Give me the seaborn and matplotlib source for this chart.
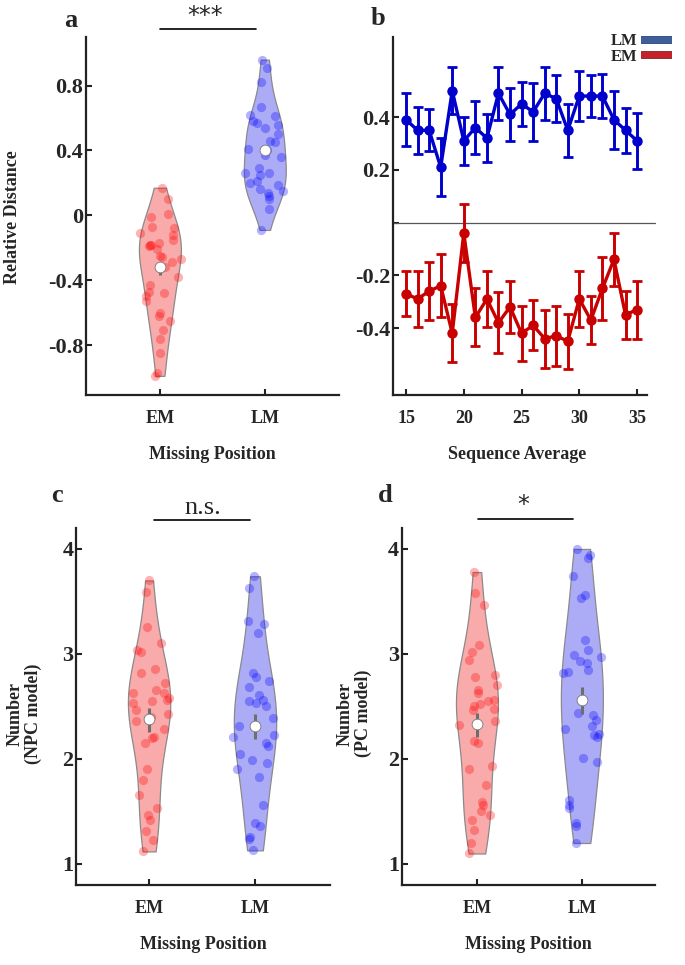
import numpy as np
import pandas as pd
import seaborn as sns
import matplotlib.pyplot as plt
import matplotlib.patheffects as pe
from matplotlib.lines import Line2D

sns.set_style('ticks')
plt.rcParams['font.family'] = ['Liberation Serif', 'DejaVu Serif']
plt.rcParams['font.weight'] = 'bold'
plt.rcParams['axes.labelweight'] = 'bold'

# ---- data ----
groups = ['EM', 'LM']

# panel a: relative distance per participant
a_em = [0.17, 0.10, 0.01, -0.01, -0.07, -0.08, -0.11, -0.12, -0.15, -0.17, -0.18, -0.18,
        -0.19, -0.21, -0.25, -0.26, -0.27, -0.29, -0.32, -0.38, -0.43, -0.47, -0.48,
        -0.50, -0.53, -0.60, -0.62, -0.65, -0.71, -0.76, -0.85, -0.97, -0.99]
a_lm = [0.96, 0.91, 0.82, 0.67, 0.62, 0.61, 0.58, 0.57, 0.56, 0.54, 0.50, 0.46, 0.45,
        0.41, 0.40, 0.37, 0.36, 0.29, 0.26, 0.26, 0.25, 0.21, 0.20, 0.19, 0.16, 0.15,
        0.14, 0.12, 0.10, 0.04, -0.09]
a_mid = [-0.32, 0.40]
a_bar = [(-0.37, -0.285), (0.37, 0.43)]

# panel b: mean +- SE by sequence average
seq = list(range(15, 36))
lm_mean = [0.39, 0.35, 0.35, 0.21, 0.50, 0.31, 0.36, 0.32, 0.49, 0.41, 0.45, 0.42, 0.49,
           0.47, 0.35, 0.48, 0.48, 0.48, 0.39, 0.35, 0.31]
lm_err = [0.10, 0.09, 0.08, 0.11, 0.09, 0.09, 0.10, 0.09, 0.10, 0.10, 0.085, 0.11, 0.10,
          0.09, 0.10, 0.095, 0.08, 0.085, 0.11, 0.085, 0.105]
em_mean = [-0.27, -0.29, -0.26, -0.24, -0.42, -0.04, -0.36, -0.29, -0.38, -0.32, -0.42,
           -0.39, -0.44, -0.43, -0.45, -0.29, -0.37, -0.25, -0.14, -0.35, -0.33]
em_err = [0.085, 0.105, 0.11, 0.12, 0.11, 0.11, 0.11, 0.105, 0.115, 0.10, 0.105, 0.095,
          0.11, 0.115, 0.105, 0.105, 0.09, 0.12, 0.10, 0.09, 0.11]

# panel c: number (NPC model)
c_em = [3.70, 3.59, 3.26, 3.04, 3.10, 3.02, 2.86, 2.82, 2.72, 2.66, 2.63, 2.63, 2.58,
        2.56, 2.55, 2.53, 2.47, 2.43, 2.40, 2.36, 2.29, 2.21, 2.20, 2.15, 1.90, 1.80,
        1.66, 1.53, 1.47, 1.42, 1.31, 1.23, 1.12]
c_lm = [3.74, 3.63, 3.31, 3.29, 3.20, 2.82, 2.78, 2.74, 2.69, 2.61, 2.56, 2.55, 2.53,
        2.50, 2.39, 2.31, 2.23, 2.21, 2.15, 2.12, 2.05, 1.99, 1.96, 1.90, 1.83, 1.56,
        1.39, 1.36, 1.26, 1.24, 1.13]
c_mid = [2.38, 2.31]
c_bar = [(2.26, 2.49), (2.19, 2.43)]

# panel d: number (PC model)
d_em = [3.78, 3.58, 3.47, 3.09, 3.02, 2.94, 2.80, 2.78, 2.70, 2.66, 2.63, 2.56, 2.55,
        2.52, 2.50, 2.48, 2.47, 2.36, 2.32, 2.17, 2.15, 1.93, 1.90, 1.75, 1.59, 1.56,
        1.50, 1.47, 1.42, 1.32, 1.20, 1.10]
d_lm = [4.00, 3.94, 3.91, 3.74, 3.56, 3.53, 3.13, 3.04, 2.99, 2.97, 2.93, 2.91, 2.85,
        2.83, 2.82, 2.44, 2.42, 2.37, 2.31, 2.29, 2.24, 2.23, 2.21, 2.01, 1.97, 1.61,
        1.56, 1.53, 1.39, 1.36, 1.20]
d_mid = [2.33, 2.56]
d_bar = [(2.21, 2.44), (2.43, 2.69)]

fill_pal = {'EM': '#F9ABAB', 'LM': '#ACACF6'}
dot_pal = {'EM': '#FF0000', 'LM': '#0000FF'}
rng = np.random.default_rng(7)

fig = plt.figure(figsize=(6.85, 9.65), dpi=100)
ax_a = fig.add_axes([0.1255, 0.5907, 0.369, 0.371])
ax_b = fig.add_axes([0.5737, 0.5907, 0.371, 0.371])
ax_c = fig.add_axes([0.111, 0.0829, 0.371, 0.370])
ax_d = fig.add_axes([0.5869, 0.0829, 0.369, 0.370])


def style_axis(ax):
    sns.despine(ax=ax)
    for s in ['left', 'bottom']:
        ax.spines[s].set_linewidth(1.6)
        ax.spines[s].set_color('#222222')
    ax.tick_params(direction='in', length=4, width=1.5, color='#222222')
    ax.tick_params(axis='y', labelsize=16, pad=2)
    ax.tick_params(axis='x', labelsize=13, pad=11)


def density_spread(vals):
    # horizontal spread of the dots follows the violin's density
    v = np.asarray(vals)
    bw = 1.1 * v.std(ddof=1) * len(v) ** (-1 / 5)
    dens = np.exp(-0.5 * ((v[:, None] - v[None, :]) / bw) ** 2).sum(axis=1)
    return dens / dens.max()


def violin_panel(ax, em, lm, mids, bars):
    df = pd.DataFrame({'group': ['EM'] * len(em) + ['LM'] * len(lm), 'value': em + lm})
    sns.violinplot(data=df, x='group', y='value', hue='group', order=groups,
                   palette=fill_pal, cut=0, width=0.4, density_norm='width', bw_adjust=1.1,
                   inner=None, linecolor='#8a8a8a', linewidth=0.9, saturation=1,
                   legend=False, ax=ax)
    for i, (g, vals) in enumerate(zip(groups, [em, lm])):
        spread = density_spread(vals)
        xs = i + rng.uniform(-1, 1, len(vals)) * 0.21 * spread
        sns.scatterplot(x=xs, y=vals, color=dot_pal[g], alpha=0.3, s=44,
                        linewidth=0, ax=ax, zorder=3)
    lo = [b[0] for b in bars]
    hi = [b[1] for b in bars]
    ax.vlines([0, 1], lo, hi, color='#6e6e6e', lw=2.2, zorder=4)
    ax.scatter([0, 1], mids, s=60, color='white', edgecolor='#777777', lw=0.6, zorder=5)
    style_axis(ax)
    ax.set_xticks([0, 1])
    ax.set_xticklabels(groups)
    ax.set_xlabel('Missing Position', fontsize=13)
    ax.xaxis.set_label_coords(0.5, -0.143)


def sig_bar(ax, x0, x1, y, text, ty, tx, **kw):
    tr = ax.get_xaxis_transform()
    ax.plot([x0, x1], [y, y], color='black', lw=1.2, transform=tr, clip_on=False)
    ax.text(tx, ty, text, transform=tr, ha='center', va='center', **kw)


# ---- a ----
violin_panel(ax_a, a_em, a_lm, a_mid, a_bar)
ax_a.set_xlim(-0.705, 1.705)
ax_a.set_ylim(-1.108, 1.1)
ax_a.set_yticks([-0.8, -0.4, 0, 0.4, 0.8])
ax_a.set_yticklabels(['-0.8', '-0.4', '0', '0.4', '0.8'])
ax_a.set_ylabel('Relative Distance', fontsize=13)
ax_a.yaxis.set_label_coords(-0.257, 0.497)
sig_bar(ax_a, 0.0, 0.914, 1.022, '***', 1.058, 0.43,
        fontsize=17, fontweight='normal', family='DejaVu Sans')

# ---- b ----
dfb = pd.DataFrame({'seq': seq + seq, 'value': lm_mean + em_mean,
                    'group': ['LM'] * len(seq) + ['EM'] * len(seq)})
line_pal = {'LM': '#0000CD', 'EM': '#C80000'}
ax_b.axhline(0, color='#555555', lw=0.9, xmin=0, xmax=1.03, clip_on=False)
sns.lineplot(data=dfb, x='seq', y='value', hue='group', palette=line_pal, marker='o',
             markersize=7.5, markeredgewidth=0, lw=2.4, legend=False, ax=ax_b, zorder=3)
ax_b.errorbar(seq, lm_mean, yerr=lm_err, fmt='none', ecolor=line_pal['LM'],
              elinewidth=2.1, capsize=3.5, capthick=2, zorder=3)
ax_b.errorbar(seq, em_mean, yerr=em_err, fmt='none', ecolor=line_pal['EM'],
              elinewidth=2.1, capsize=3.5, capthick=2, zorder=3)
style_axis(ax_b)
ax_b.set_xlim(13.87, 35.87)
ax_b.set_ylim(-0.654, 0.704)
ax_b.set_xticks([15, 20, 25, 30, 35])
ax_b.set_yticks([-0.4, -0.2, 0, 0.2, 0.4])
ax_b.set_yticklabels(['-0.4', '-0.2', '', '0.2', '0.4'])
ax_b.set_xlabel('Sequence Average', fontsize=13)
ax_b.xaxis.set_label_coords(0.49, -0.143)
ax_b.set_ylabel('')
handles = [
    Line2D([], [], color='#3D5E9E', lw=4.5, solid_capstyle='butt',
           path_effects=[pe.Stroke(linewidth=5.5, foreground='#1d2d55'), pe.Normal()]),
    Line2D([], [], color='#C42128', lw=4.5, solid_capstyle='butt',
           path_effects=[pe.Stroke(linewidth=5.5, foreground='#6a1015'), pe.Normal()]),
]
fig.legend(handles, ['LM', 'EM'], loc='upper right', bbox_to_anchor=(0.993, 0.974),
           frameon=False, markerfirst=False, handlelength=1.85, handletextpad=0.2,
           labelspacing=-0.05, borderpad=0, prop={'size': 12, 'weight': 'bold'})

# ---- c ----
violin_panel(ax_c, c_em, c_lm, c_mid, c_bar)
ax_c.set_xlim(-0.69, 1.71)
ax_c.set_ylim(0.8, 4.2)
ax_c.set_yticks([1, 2, 3, 4])
ax_c.set_ylabel('Number\n(NPC model)', fontsize=13, linespacing=1.05)
ax_c.yaxis.set_label_coords(-0.134, 0.48)
sig_bar(ax_c, 0.05, 0.95, 1.022, 'n.s.', 1.056, 0.51, fontsize=19, fontweight='normal')

# ---- d ----
violin_panel(ax_d, d_em, d_lm, d_mid, d_bar)
ax_d.set_xlim(-0.714, 1.695)
ax_d.set_ylim(0.8, 4.2)
ax_d.set_yticks([1, 2, 3, 4])
ax_d.set_ylabel('Number\n(PC model)', fontsize=13, linespacing=1.05)
ax_d.yaxis.set_label_coords(-0.119, 0.48)
sig_bar(ax_d, 0.01, 0.92, 1.025, '*', 1.065, 0.44,
        fontsize=17, fontweight='normal', family='DejaVu Sans')

# panel letters
for lab, x, y in [('a', 0.104, 0.979), ('b', 0.552, 0.981),
                  ('c', 0.083, 0.487), ('d', 0.562, 0.487)]:
    fig.text(x, y, lab, fontsize=19, fontweight='bold', ha='center', va='center')

fig.savefig('out.png', dpi=100)
